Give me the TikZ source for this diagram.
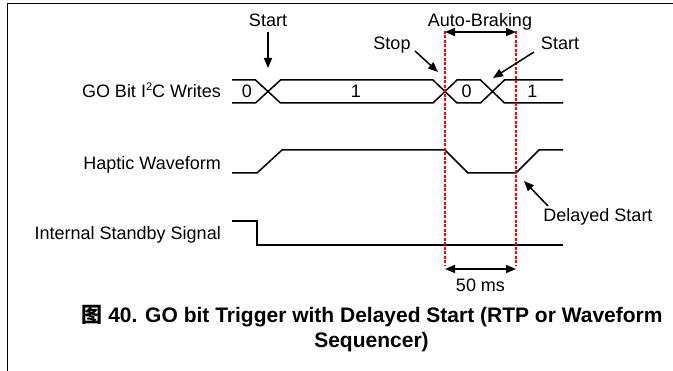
\documentclass[tikz,border=0pt]{standalone}
\usepackage{fontspec}
\setmainfont{Liberation Sans}
\newfontfamily\cjk{Noto Sans CJK SC}
\usetikzlibrary{arrows.meta}
\newcommand{\mysup}[1]{\raisebox{6.5pt}{\fontsize{11}{11}\selectfont #1}}
\begin{document}
\begin{tikzpicture}[x=1pt,y=-1pt,
  sig/.style={line width=1.5pt, line join=miter},
  lbl/.style={inner sep=0pt, font=\fontsize{18}{21}\selectfont},
  capt/.style={inner sep=0pt, font=\fontsize{21}{25}\selectfont\bfseries},
  arr/.style={line width=1.5pt, -{Triangle[length=10pt,width=8pt]}},
  dimarr/.style={line width=1.5pt, {Triangle[length=10pt,width=8pt]}-{Triangle[length=10pt,width=8pt]}},
  marker/.style={red, line width=1.4pt, dash pattern=on 3pt off 1.5pt}]
\useasboundingbox (0,0) rectangle (673,371);
% frame
\draw[line width=1.3pt] (673,3.3) -- (7.7,3.3) -- (7.7,371);

% signal labels
\node[lbl, anchor=base east] (lgo) at (221,97.3) {GO Bit I\mysup{2}C Writes};
\node[lbl, anchor=base east] (lhap) at (221,169.3) {Haptic Waveform};
\node[lbl, anchor=base east] (lstb) at (221,239.3) {Internal Standby Signal};

% bus values
\node[lbl, anchor=base] (v0a) at (247,97.3) {0};
\node[lbl, anchor=base] (v1a) at (356,97.3) {1};
\node[lbl, anchor=base] (v0b) at (466.7,97.3) {0};
\node[lbl, anchor=base] (v1b) at (532.3,97.3) {1};

% annotations
\node[lbl, anchor=base] (start1) at (268,26.7) {Start};
\node[lbl, anchor=base] (ab) at (480,26.7) {Auto-Braking};
\node[lbl, anchor=base] (stop) at (392,50) {Stop};
\node[lbl, anchor=base] (start2) at (560,50) {Start};
\node[lbl, anchor=base] (ds) at (598,221.7) {Delayed Start};
\node[lbl, anchor=base] (ms) at (480.5,291.7) {50 ms};

% caption
\node[capt, anchor=base] (cap1) at (372,322.3) {{\cjk 图} 40. GO bit Trigger with Delayed Start (RTP or Waveform};
\node[capt, anchor=base] (cap2) at (371.5,347.3) {Sequencer)};

% GO bit bus
\draw[sig] (232,80) -- (255.5,80) -- (280.5,103) -- (433,103) -- (457,80) -- (480.5,80) -- (504.5,103) -- (563,103);
\draw[sig] (232,103) -- (255.5,103) -- (280.5,80) -- (433,80) -- (457,103) -- (480.5,103) -- (504.5,80) -- (563,80);

% Haptic waveform
\draw[sig] (232,173) -- (257,173) -- (282,150) -- (445,150) -- (468,173) -- (516,173) -- (539,150) -- (563,150);

% Internal standby
\draw[sig] (232,221) -- (257,221) -- (257,245) -- (563,245);

% red markers
\coordinate (r1t) at (445,30.7);
\coordinate (r1b) at (445,266);
\coordinate (r2t) at (516,30.7);
\coordinate (r2b) at (516,266);
\draw[marker] (r1t) -- (r1b);
\draw[marker] (r2t) -- (r2b);

% dimension arrows
\coordinate (abl) at (445,32);
\coordinate (abr) at (516,32);
\draw[dimarr] (abl) -- (abr);
\coordinate (msl) at (445,269);
\coordinate (msr) at (516,269);
\draw[dimarr] (msl) -- (msr);

% pointer arrows
\coordinate (s1a) at (268,32);
\coordinate (s1b) at (268,68);
\draw[arr] (s1a) -- (s1b);
\coordinate (spa) at (415,51);
\coordinate (spb) at (438,72);
\draw[arr] (spa) -- (spb);
\coordinate (s2a) at (534,52);
\coordinate (s2b) at (493,78);
\draw[arr] (s2a) -- (s2b);
\coordinate (dsa) at (548,206);
\coordinate (dsb) at (524,181);
\draw[arr] (dsa) -- (dsb);
\end{tikzpicture}
\end{document}
